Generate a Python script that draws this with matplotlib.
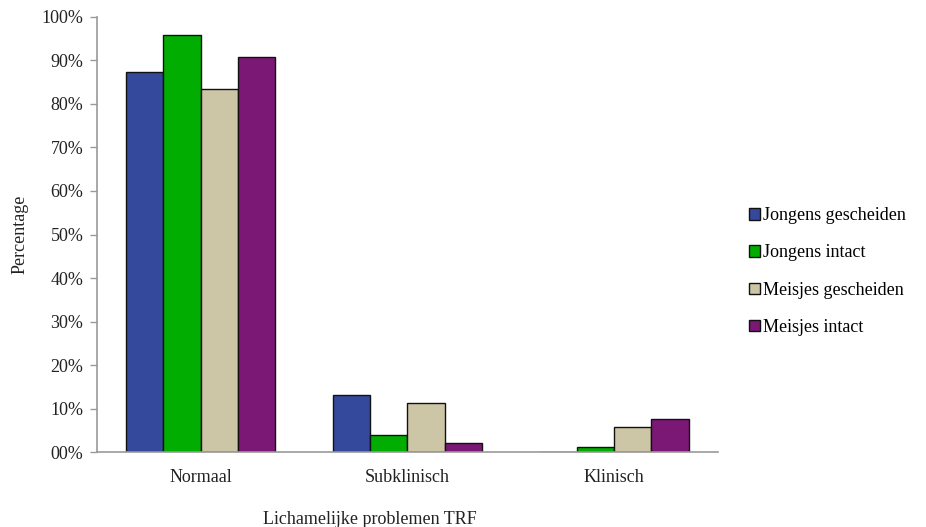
import matplotlib.pyplot as plt
import numpy as np
from matplotlib.ticker import FuncFormatter

# categories and series (percentages)
categories = ['Normaal', 'Subklinisch', 'Klinisch']
series_names = ['Jongens gescheiden', 'Jongens intact', 'Meisjes gescheiden', 'Meisjes intact']
jongens_gescheiden = [87.4, 13.1, 0.0]
jongens_intact = [95.9, 3.9, 1.1]
meisjes_gescheiden = [83.4, 11.3, 5.7]
meisjes_intact = [90.8, 2.1, 7.6]
colors = ['#34489c', '#00ad00', '#cdc6a6', '#7b1876']

plt.rcParams['font.family'] = ['Liberation Serif', 'DejaVu Serif']

fig = plt.figure(figsize=(9.26, 5.27), dpi=100)
ax = fig.add_axes([0.105, 0.142, 0.67, 0.826])

x = np.arange(len(categories))
width = 0.18
values = [jongens_gescheiden, jongens_intact, meisjes_gescheiden, meisjes_intact]
for i, (vals, name, col) in enumerate(zip(values, series_names, colors)):
    ax.bar(x + (i - 1.5) * width, vals, width, color=col, edgecolor='#111111',
           linewidth=1.0, label=name)

ax.set_xlim(-0.5, 2.5)
ax.set_ylim(0, 100)
ax.set_yticks(range(0, 101, 10))
ax.yaxis.set_major_formatter(FuncFormatter(lambda v, p: '%02d%%' % v))
ax.set_xticks(x)
ax.set_xticklabels(categories)
ax.tick_params(axis='x', length=0, pad=12, labelsize=13, colors='#222222')
ax.tick_params(axis='y', length=5, width=1, color='#999999', labelsize=13,
               labelcolor='#222222', pad=5)

for s in ['top', 'right']:
    ax.spines[s].set_visible(False)
for s in ['left', 'bottom']:
    ax.spines[s].set_color('#999999')
    ax.spines[s].set_linewidth(1.2)

ax.set_ylabel('Percentage', fontsize=13, color='#222222')
ax.yaxis.set_label_coords(-0.11, 0.5)
ax.set_xlabel('Lichamelijke problemen TRF', fontsize=13, color='#222222')
ax.xaxis.set_label_coords(0.44, -0.135)

leg = ax.legend(loc='center left', bbox_to_anchor=(1.025, 0.415), frameon=False,
                fontsize=13, handlelength=0.6, handleheight=0.6,
                handletextpad=0.15, labelspacing=1.12)

fig.savefig('out.png', dpi=100)
